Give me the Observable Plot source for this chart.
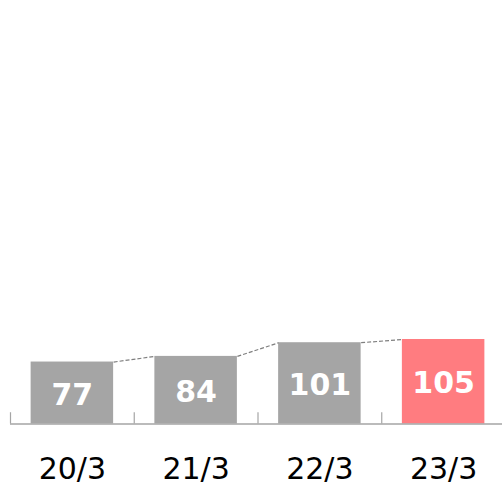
<!DOCTYPE html>
<html>
<head>
<meta charset="utf-8">
<script src="https://cdn.jsdelivr.net/npm/d3@7"></script>
<script src="https://cdn.jsdelivr.net/npm/@observablehq/plot@0.6"></script>
<style>
  html, body { margin: 0; padding: 0; background: #fff; overflow: hidden; }
  #chart { width: 502px; height: 486px; }
</style>
</head>
<body>
<div id="chart"></div>
<script>
const categories = ["20/3", "21/3", "22/3", "23/3"];
const values = [77, 84, 101, 105];
const barColors = ["#a5a5a5", "#a5a5a5", "#a5a5a5", "#ff7c80"];

const half = 1 / 3; // half bar width, in category units
const rows = categories.map((c, i) => ({i, cat: c, v: values[i], color: barColors[i]}));
const links = rows.slice(0, -1).map((d, k) => ({
  x1: d.i + half, y1: d.v, x2: rows[k + 1].i - half, y2: rows[k + 1].v
}));
const boundaries = categories.map((c, i) => i - 0.5);

const chart = Plot.plot({
  width: 502,
  height: 486,
  marginLeft: 10,
  marginRight: 0,
  marginTop: 0,
  marginBottom: 0,
  style: {fontFamily: "DejaVu Sans, Verdana, sans-serif", background: "white"},
  x: {domain: [-0.5, categories.length - 0.5], range: [10, 505], axis: null},
  y: {domain: [0, 105], range: [423.5, 339], axis: null},
  marks: [
    Plot.rectY(rows, {x1: d => d.i - half, x2: d => d.i + half, y1: 0, y2: "v", fill: "color"}),
    Plot.link(links, {x1: "x1", y1: "y1", x2: "x2", y2: "y2", stroke: "#7f7f7f", strokeWidth: 1.2, strokeDasharray: "4,2"}),
    Plot.ruleY([0], {stroke: "#a5a5a5", strokeWidth: 1.5}),
    Plot.ruleX(boundaries, {x: d => d, y1: 0, y2: 14, stroke: "#a5a5a5", strokeWidth: 1.2}),
    Plot.text(rows, {x: "i", y: d => d.v / 2, text: d => String(d.v), fill: "white", fontWeight: "bold", fontSize: 30, dy: 2}),
    Plot.text(rows, {x: "i", y: 0, text: "cat", fill: "#000", fontSize: 30, dy: 45})
  ]
});
document.getElementById("chart").appendChild(chart);
</script>
</body>
</html>
